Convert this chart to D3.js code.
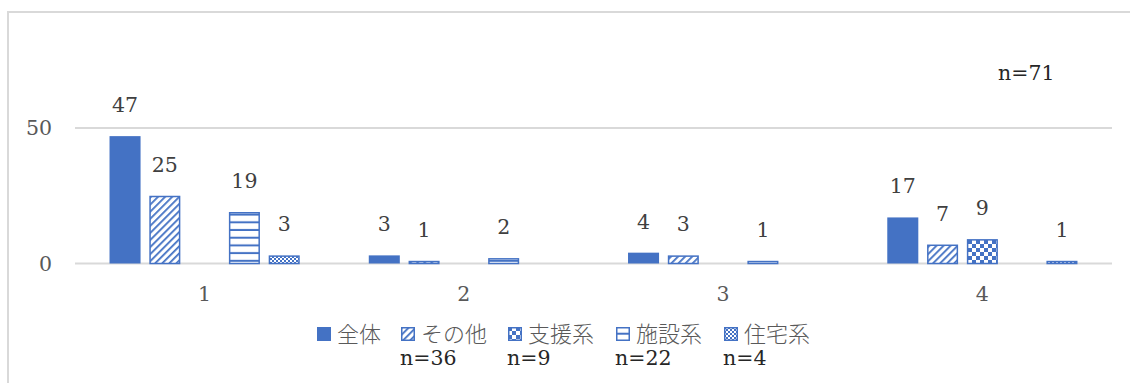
<!DOCTYPE html>
<html><head><meta charset="utf-8">
<script src="https://cdn.jsdelivr.net/npm/d3@7"></script>
<style>body{margin:0;background:#fff}svg{display:block}</style>
</head><body><svg id="c" width="1130" height="383"></svg>
<script>
const categories = ["1","2","3","4"];
const seriesNames = ["全体","その他","支援系","施設系","住宅系"];
const seriesN = ["", "n=36", "n=9", "n=22", "n=4"];
const vAll = [47,3,4,17];
const vOther = [25,1,3,7];
const vSupport = [0,0,0,9];
const vFacility = [19,2,1,0];
const vHousing = [3,0,0,1];
const yTicks = [0,50];
const totalLabel = "n=71";

const values = [vAll,vOther,vSupport,vFacility,vHousing];
const blue = "#4472C4";
const SERIF = "'DejaVu Serif', serif";
const FS = 20.5;
const svg = d3.select("#c");
const defs = svg.append("defs");

const pDiag = defs.append("pattern").attr("id","p1").attr("patternUnits","userSpaceOnUse")
  .attr("width",5).attr("height",5).attr("patternTransform","rotate(45)");
pDiag.append("rect").attr("width",5).attr("height",5).attr("fill","#fff");
pDiag.append("rect").attr("width",1.8).attr("height",5).attr("fill",blue);

const pChk = defs.append("pattern").attr("id","p2").attr("patternUnits","userSpaceOnUse")
  .attr("width",8).attr("height",8);
pChk.append("rect").attr("width",8).attr("height",8).attr("fill","#fff");
pChk.append("rect").attr("width",4).attr("height",4).attr("fill",blue);
pChk.append("rect").attr("x",4).attr("y",4).attr("width",4).attr("height",4).attr("fill",blue);

const pHor = defs.append("pattern").attr("id","p3").attr("patternUnits","userSpaceOnUse")
  .attr("width",8).attr("height",7.7);
pHor.append("rect").attr("width",8).attr("height",7.7).attr("fill","#fff");
pHor.append("rect").attr("y",5.7).attr("width",8).attr("height",2).attr("fill",blue);

const pSm = defs.append("pattern").attr("id","p4").attr("patternUnits","userSpaceOnUse")
  .attr("width",4).attr("height",4);
pSm.append("rect").attr("width",4).attr("height",4).attr("fill","#fff");
pSm.append("rect").attr("width",2).attr("height",2).attr("fill",blue);
pSm.append("rect").attr("x",2).attr("y",2).attr("width",2).attr("height",2).attr("fill",blue);

const fills = [blue,"url(#p1)","url(#p2)","url(#p3)","url(#p4)"];

svg.append("path").attr("d","M8,400 L8,12 L1140,12").attr("fill","none")
  .attr("stroke","#d9d9d9").attr("stroke-width",2);

const x0 = d3.scaleBand().domain(categories).range([75,1112]);
const x1 = d3.scaleBand().domain(seriesNames).range([-95.1,95.1]).paddingInner(0.22);
const y = d3.scaleLinear().domain([0,50]).range([263.5,128]);

svg.append("g").selectAll("line").data(yTicks).join("line")
  .attr("x1",75).attr("x2",1112).attr("y1",d=>y(d)).attr("y2",d=>y(d))
  .attr("stroke","#d9d9d9").attr("stroke-width",2);

svg.append("g").selectAll("text").data(yTicks).join("text")
  .attr("x",52).attr("y",d=>y(d)).attr("dy","0.35em").attr("text-anchor","end")
  .style("font-family",SERIF).attr("font-size",FS).attr("fill","#595959")
  .text(d=>d);

svg.append("g").selectAll("text").data(categories).join("text")
  .attr("x",d=>x0(d)+x0.bandwidth()/2).attr("y",301)
  .attr("text-anchor","middle")
  .style("font-family",SERIF).attr("font-size",FS).attr("fill","#595959")
  .text(d=>d);

const cells = [];
seriesNames.forEach((s,si)=>categories.forEach((c,ci)=>{
  cells.push({s,si,c,v:values[si][ci]});
}));
const bars = cells.filter(d=>d.v>0);
svg.append("g").selectAll("rect").data(bars).join("rect")
  .attr("x",d=>x0(d.c)+x0.bandwidth()/2+x1(d.s)+(d.si?0.75:0))
  .attr("y",d=>y(d.v)+(d.si?0.75:0))
  .attr("width",d=>x1.bandwidth()-(d.si?1.5:0))
  .attr("height",d=>y(0)-y(d.v)-(d.si?0.75:0))
  .attr("fill",d=>fills[d.si])
  .attr("stroke",d=>d.si?blue:"none").attr("stroke-width",1.5);

svg.append("g").selectAll("text").data(bars).join("text")
  .attr("x",d=>x0(d.c)+x0.bandwidth()/2+x1(d.s)+x1.bandwidth()/2)
  .attr("y",d=>y(d.v)-24)
  .attr("text-anchor","middle")
  .style("font-family",SERIF).attr("font-size",FS).attr("fill","#404040")
  .text(d=>d.v);

const legX = [317,401,508,616,724];
const leg = svg.append("g").selectAll("g").data(seriesNames).join("g")
  .attr("transform",(d,i)=>`translate(${legX[i]},327)`);
leg.append("rect").attr("x",(d,i)=>i?0.75:0).attr("y",(d,i)=>i?0.75:0)
  .attr("width",(d,i)=>i?12.5:14).attr("height",(d,i)=>i?12.5:14)
  .attr("fill",(d,i)=>fills[i]).attr("stroke",(d,i)=>i?blue:"none").attr("stroke-width",1.5);
leg.append("text").attr("x",20).attr("y",7).attr("dy","0.36em")
  .style("font-family","'Noto Sans CJK JP', sans-serif").attr("font-size",22).attr("font-weight",300).attr("fill","#595959")
  .text(d=>d);
leg.append("text").attr("x",-1).attr("y",38)
  .style("font-family",SERIF).attr("font-size",FS).attr("fill","#262626")
  .text((d,i)=>seriesN[i]);

svg.append("text").attr("x",998).attr("y",80)
  .style("font-family",SERIF).attr("font-size",FS).attr("fill","#262626")
  .text(totalLabel);
</script></body></html>
